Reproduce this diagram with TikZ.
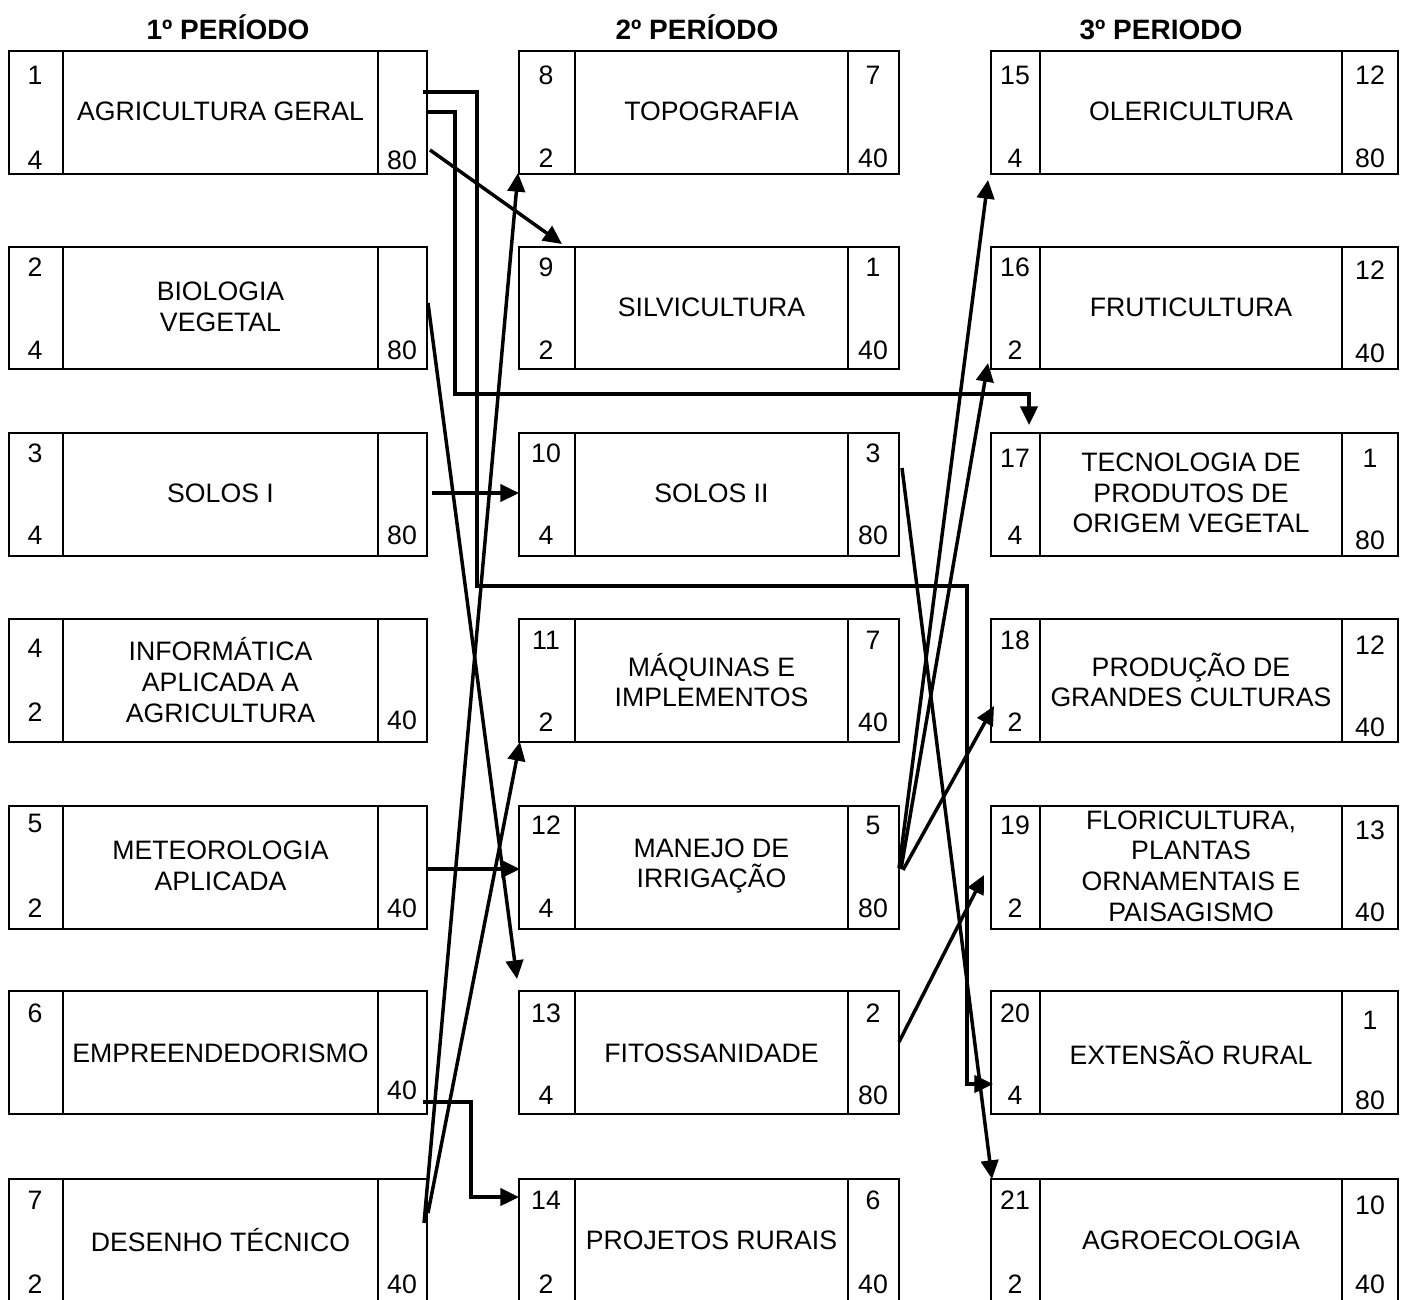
\documentclass[tikz,border=0pt]{standalone}
\usepackage{fontspec}
\setmainfont{Liberation Sans}
\usetikzlibrary{arrows.meta}
\begin{document}
\begin{tikzpicture}[x=0.75pt,y=-0.75pt,
  cbox/.style={draw, line width=1.5pt, minimum height=91.9pt, inner sep=0pt, anchor=north west},
  wa/.style={minimum width=313.5pt},
  wb/.style={minimum width=285pt},
  wc/.style={minimum width=305.25pt},
  div/.style={line width=1.5pt},
  ctext/.style={align=center, inner sep=0pt, font=\fontsize{20}{23}\selectfont},
  num/.style={inner sep=0pt, font=\fontsize{20}{23}\selectfont},
  head/.style={inner sep=0pt, anchor=base, font=\bfseries\fontsize{21}{25}\selectfont},
  conn/.style={line width=2.6pt, -{Triangle[length=14pt,width=13pt]}}
]
\useasboundingbox (0,0) rectangle (1405,1299);

% headings
\node[head] (h1) at (228,39) {1º PERÍODO};
\node[head] (h2) at (697,39) {2º PERÍODO};
\node[head] (h3) at (1161,39) {3º PERIODO};

% ---------- boxes ----------
\foreach \n/\y in {1/50,2/245.5,3/432,4/618,5/805,6/990,7/1178}{
  \node[cbox,wa] (b\n) at (8,\y) {};
  \draw[div] (b\n.north -| 63,0) -- (b\n.south -| 63,0);
  \draw[div] (b\n.north -| 378,0) -- (b\n.south -| 378,0);
}
\foreach \n/\y in {8/50,9/245.5,10/432,11/618,12/805,13/990,14/1178}{
  \node[cbox,wb] (b\n) at (518,\y) {};
  \draw[div] (b\n.north -| 575,0) -- (b\n.south -| 575,0);
  \draw[div] (b\n.north -| 848,0) -- (b\n.south -| 848,0);
}
\foreach \n/\y in {15/50,16/245.5,17/432,18/618,19/805,20/990,21/1178}{
  \node[cbox,wc] (b\n) at (990,\y) {};
  \draw[div] (b\n.north -| 1040,0) -- (b\n.south -| 1040,0);
  \draw[div] (b\n.north -| 1342,0) -- (b\n.south -| 1342,0);
}

% course titles
\node[ctext] (t1) at (220.5,111) {AGRICULTURA GERAL};
\node[ctext] (t2) at (220.5,307) {BIOLOGIA\\VEGETAL};
\node[ctext] (t3) at (220.5,493) {SOLOS I};
\node[ctext] (t4) at (220.5,680) {INFORMÁTICA\\APLICADA A\\AGRICULTURA};
\node[ctext] (t5) at (220.5,866) {METEOROLOGIA\\APLICADA};
\node[ctext] (t6) at (220.5,1053) {EMPREENDEDORISMO};
\node[ctext] (t7) at (220.5,1240) {DESENHO TÉCNICO};

\node[ctext] (t8) at (711.5,111) {TOPOGRAFIA};
\node[ctext] (t9) at (711.5,307) {SILVICULTURA};
\node[ctext] (t10) at (711.5,493) {SOLOS II};
\node[ctext] (t11) at (711.5,680) {MÁQUINAS E\\IMPLEMENTOS};
\node[ctext] (t12) at (711.5,866) {MANEJO DE\\IRRIGAÇÃO};
\node[ctext] (t13) at (711.5,1053) {FITOSSANIDADE};
\node[ctext] (t14) at (711.5,1240) {PROJETOS RURAIS};

\node[ctext] (t15) at (1191,111) {OLERICULTURA};
\node[ctext] (t16) at (1191,307) {FRUTICULTURA};
\node[ctext] (t17) at (1191,493) {TECNOLOGIA DE\\PRODUTOS DE\\ORIGEM VEGETAL};
\node[ctext] (t18) at (1191,680) {PRODUÇÃO DE\\GRANDES CULTURAS};
\node[ctext] (t19) at (1191,866) {FLORICULTURA,\\PLANTAS\\ORNAMENTAIS E\\PAISAGISMO};
\node[ctext] (t20) at (1191,1053) {EXTENSÃO RURAL};
\node[ctext] (t21) at (1191,1240) {AGROECOLOGIA};

% numbers column 1
\foreach \t/\x/\y [count=\i] in {1/35/75,4/35/160,80/402/160,
  2/35/267,4/35/350,80/402/350,
  3/35/453,4/35/535,80/402/535,
  4/35/648,2/35/712,40/402/720,
  5/35/823,2/35/908,40/402/908,
  6/35/1013,40/402/1090,
  7/35/1200,2/35/1284,40/402/1284}{
  \node[num] (na\i) at (\x,\y) {\t};
}
% numbers column 2
\foreach \t/\x/\y [count=\i] in {8/546/75,2/546/158,7/873/75,40/873/158,
  9/546/267,2/546/350,1/873/267,40/873/350,
  10/546/453,4/546/535,3/873/453,80/873/535,
  11/546/640,2/546/722,7/873/640,40/873/722,
  12/546/825,4/546/908,5/873/825,80/873/908,
  13/546/1013,4/546/1095,2/873/1013,80/873/1095,
  14/546/1200,2/546/1284,6/873/1200,40/873/1284}{
  \node[num] (nb\i) at (\x,\y) {\t};
}
% numbers column 3
\foreach \t/\x/\y [count=\i] in {15/1015/75,4/1015/158,12/1370/75,80/1370/158,
  16/1015/267,2/1015/350,12/1370/270,40/1370/353,
  17/1015/458,4/1015/535,1/1370/458,80/1370/540,
  18/1015/640,2/1015/722,12/1370/645,40/1370/727,
  19/1015/825,2/1015/908,13/1370/830,40/1370/912,
  20/1015/1013,4/1015/1095,1/1370/1020,80/1370/1100,
  21/1015/1200,2/1015/1284,10/1370/1205,40/1370/1284}{
  \node[num] (nc\i) at (\x,\y) {\t};
}

% connector ends
\coordinate (sA) at (423,92);   \coordinate (kA1) at (477,586); \coordinate (kA2) at (967,1084); \coordinate (eA) at (993,1084);
\coordinate (sB) at (428,112);  \coordinate (kB1) at (455,394); \coordinate (eB) at (1029,425);
\coordinate (sC) at (430,150);  \coordinate (eC) at (562,244);
\coordinate (sD1) at (424,1223); \coordinate (eD1) at (518,173);
\coordinate (sD2) at (428,1213); \coordinate (eD2) at (520,742);
\coordinate (sE) at (428,303);  \coordinate (eE) at (517,979);
\coordinate (sF) at (432,493);  \coordinate (eF) at (519,493);
\coordinate (sG) at (428,869);  \coordinate (eG) at (520,869);
\coordinate (sH) at (423,1102); \coordinate (kH) at (471,1197); \coordinate (eH) at (519,1197);
\coordinate (sI) at (902,468);  \coordinate (eI) at (992,1179);
\coordinate (sJ) at (899,868);  \coordinate (eJ) at (988,180);
\coordinate (sK) at (901,869);  \coordinate (eK) at (988,363);
\coordinate (sL) at (903,870);  \coordinate (eL) at (994,706);
\coordinate (sM) at (899,1042); \coordinate (eM) at (984,875);

% connectors
\draw[conn] (sA) -| (kA1) -| (kA2) -- (eA);
\draw[conn] (sB) -| (kB1) -| (eB);
\draw[conn] (sC) -- (eC);
\draw[conn] (sD1) -- (eD1);
\draw[conn] (sD2) -- (eD2);
\draw[conn] (sE) -- (eE);
\draw[conn] (sF) -- (eF);
\draw[conn] (sG) -- (eG);
\draw[conn] (sH) -| (kH) -- (eH);
\draw[conn] (sI) -- (eI);
\draw[conn] (sJ) -- (eJ);
\draw[conn] (sK) -- (eK);
\draw[conn] (sL) -- (eL);
\draw[conn] (sM) -- (eM);
\end{tikzpicture}
\end{document}
